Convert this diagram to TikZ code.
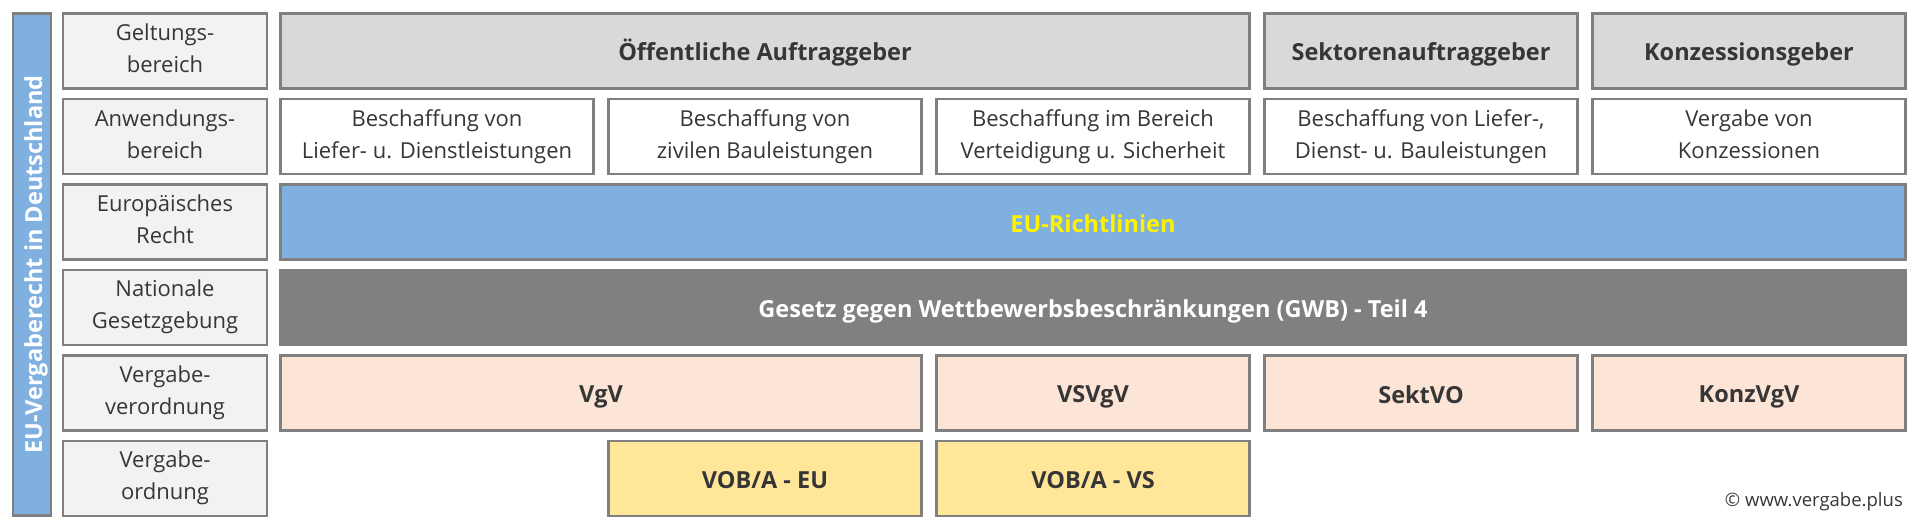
\documentclass[tikz,border=0pt]{standalone}
\usepackage{fontspec}
\setmainfont{Open Sans}
\definecolor{rim}{HTML}{808080}
\definecolor{ink}{HTML}{363636}
\definecolor{labfill}{HTML}{F2F2F2}
\definecolor{hdrfill}{HTML}{D9D9D9}
\definecolor{eublue}{HTML}{7FB0E0}
\definecolor{gwbgrey}{HTML}{808080}
\definecolor{vofill}{HTML}{FCE4D6}
\definecolor{vobfill}{HTML}{FFE699}
\newcommand\cellstrut{\rule[-5pt]{0pt}{31pt}}

\begin{document}
\begin{tikzpicture}[x=1pt,y=-1pt,
  box/.style={draw=rim,line width=2.5pt,rectangle,inner sep=0pt,align=center,
    text=ink,minimum height=75pt,font=\fontsize{22}{32}\selectfont,
    execute at begin node=\cellstrut,execute at end node=\cellstrut},
  bold/.style={font=\fontsize{23.5}{32}\selectfont\bfseries},
  lab/.style={box,fill=labfill,minimum width=204pt},
  hdr/.style={box,fill=hdrfill,bold},
  area/.style={box,fill=white},
  eu/.style={box,fill=eublue,text=yellow,bold},
  gwb/.style={box,draw=gwbgrey,fill=gwbgrey,text=white,bold},
  vo/.style={box,fill=vofill,bold},
  vob/.style={box,fill=vobfill,bold},
  one/.style={minimum width=313pt},
  two/.style={minimum width=641pt},
  three/.style={minimum width=969pt},
  five/.style={minimum width=1625pt}]
\useasboundingbox (0,0) rectangle (1920,530);

% side bar
\node[box,fill=eublue,minimum width=502pt,minimum height=38pt,text=white,
  bold,rotate=90] (side) at (32,264.5)
  {EU-Vergaberecht in Deutschland};

% row labels
\node[lab] (l1) at (165,50.75)  {Geltungs-\\bereich};
\node[lab] (l2) at (165,136.25) {Anwendungs-\\bereich};
\node[lab] (l3) at (165,221.75) {Europäisches\\Recht};
\node[lab] (l4) at (165,307.25) {Nationale\\Gesetzgebung};
\node[lab] (l5) at (165,392.75) {Vergabe-\\verordnung};
\node[lab] (l6) at (165,478.25) {Vergabe-\\ordnung};

% Geltungsbereich
\node[hdr,three] (oeff)  at (765,50.75)  {Öffentliche Auftraggeber};
\node[hdr,one]   (sekt)  at (1421,50.75) {Sektorenauftraggeber};
\node[hdr,one]   (konz)  at (1749,50.75) {Konzessionsgeber};

% Anwendungsbereich
\node[area,one] (ldl)  at (437,136.25)  {Beschaffung von\\Liefer- u. Dienstleistungen};
\node[area,one] (bau)  at (765,136.25)  {Beschaffung von\\zivilen Bauleistungen};
\node[area,one] (vs)   at (1093,136.25) {Beschaffung im Bereich\\Verteidigung u. Sicherheit};
\node[area,one] (sdb)  at (1421,136.25) {Beschaffung von Liefer-,\\Dienst- u. Bauleistungen};
\node[area,one] (vkz)  at (1749,136.25) {Vergabe von\\Konzessionen};

% Recht
\node[eu,five]  (rl)  at (1093,221.75) {EU-Richtlinien};
\node[gwb,five] (gwb) at (1093,307.25) {Gesetz gegen Wettbewerbsbeschränkungen (GWB) - Teil 4};

% Verordnungen
\node[vo,two] (vgv)     at (601,392.75)  {VgV};
\node[vo,one] (vsvgv)   at (1093,392.75) {VSVgV};
\node[vo,one] (sektvo)  at (1421,392.75) {SektVO};
\node[vo,one] (konzvgv) at (1749,392.75) {KonzVgV};

% Ordnungen
\node[vob,one] (vobeu) at (765,478.25)  {VOB/A - EU};
\node[vob,one] (vobvs) at (1093,478.25) {VOB/A - VS};

\node[anchor=east,text=ink,inner sep=0pt,font=\fontsize{18.5}{22}\selectfont] (copy) at (1903,502)
  {© www.vergabe.plus};
\end{tikzpicture}
\end{document}
